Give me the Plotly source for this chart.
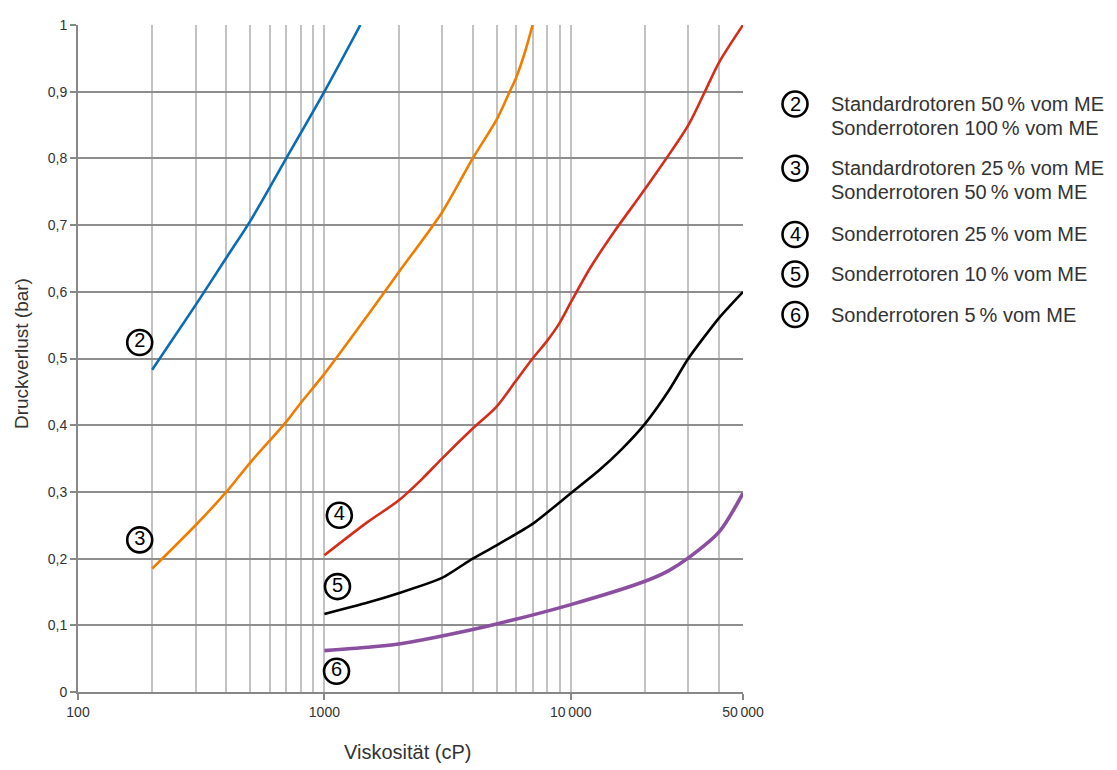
import plotly.graph_objects as go

# ---------------- data ----------------
x2 = [200, 300, 400, 500, 700, 1000, 1400]
y2 = [0.483, 0.580, 0.651, 0.706, 0.800, 0.900, 1.000]

x3 = [200, 300, 400, 500, 700, 800, 1000, 1500, 2000, 3000, 4000, 5000, 5650, 6000, 6500, 7000]
y3 = [0.185, 0.250, 0.300, 0.344, 0.405, 0.433, 0.477, 0.565, 0.629, 0.719, 0.800, 0.858, 0.900, 0.921, 0.958, 1.000]

x4 = [1000, 1500, 2000, 2500, 3000, 4000, 5000, 6000, 7000, 8000, 9000, 10000, 12000, 15000, 20000, 30000, 35000, 40000, 50000]
y4 = [0.205, 0.255, 0.287, 0.320, 0.350, 0.395, 0.428, 0.467, 0.500, 0.526, 0.553, 0.584, 0.636, 0.690, 0.754, 0.850, 0.900, 0.944, 1.000]

x5 = [1000, 1500, 2000, 3000, 4000, 5000, 7000, 10000, 13000, 16000, 20000, 25000, 30000, 40000, 50000]
y5 = [0.117, 0.134, 0.148, 0.171, 0.200, 0.220, 0.252, 0.298, 0.332, 0.363, 0.402, 0.452, 0.500, 0.561, 0.600]

x6 = [1000, 1500, 2000, 3000, 5000, 10000, 20000, 25000, 30000, 40000, 50000]
y6 = [0.062, 0.067, 0.072, 0.084, 0.102, 0.131, 0.166, 0.182, 0.201, 0.240, 0.298]

curve_ids = ["2", "3", "4", "5", "6"]
label_x = [178, 178, 1150, 1130, 1120]
label_y = [0.524, 0.228, 0.265, 0.158, 0.031]

legend_lines = [
    ["Standardrotoren 50\u2009% vom ME", "Sonderrotoren 100\u2009% vom ME"],
    ["Standardrotoren 25\u2009% vom ME", "Sonderrotoren 50\u2009% vom ME"],
    ["Sonderrotoren 25\u2009% vom ME"],
    ["Sonderrotoren 10\u2009% vom ME"],
    ["Sonderrotoren 5\u2009% vom ME"],
]

x_major = [100, 1000, 10000, 50000]
x_major_text = ["100", "1000", "10\u2009000", "50\u2009000"]
x_minor = [200, 300, 400, 500, 600, 700, 800, 900, 1000,
           2000, 3000, 4000, 5000, 6000, 7000, 8000, 9000, 10000,
           20000, 30000, 40000, 50000]
y_ticks = [0, 0.1, 0.2, 0.3, 0.4, 0.5, 0.6, 0.7, 0.8, 0.9, 1.0]
y_tick_text = ["0", "0,1", "0,2", "0,3", "0,4", "0,5", "0,6", "0,7", "0,8", "0,9", "1"]

x_title = "Viskosität (cP)"
y_title = "Druckverlust (bar)"

# ---------------- figure ----------------
FONT = "Liberation Sans"
TXT = "#333333"
fig = go.Figure()

series = [
    (x2, y2, "#0a6cb4", 2.6, 0.8),
    (x3, y3, "#f07d00", 2.6, 0.8),
    (x4, y4, "#d42e1a", 2.6, 0.8),
    (x5, y5, "#000000", 2.6, 0.6),
    (x6, y6, "#8b4f9f", 3.6, 0.8),
]
for xs, ys, col, w, sm in series:
    fig.add_trace(go.Scatter(
        x=xs, y=ys, mode="lines",
        line=dict(color=col, width=w, shape="spline", smoothing=sm),
        showlegend=False, hoverinfo="skip",
    ))

fig.add_trace(go.Scatter(
    x=label_x, y=label_y, mode="markers+text",
    marker=dict(symbol="circle", size=25, color="white",
                line=dict(color="black", width=2.6)),
    text=curve_ids, textposition="middle center",
    textfont=dict(family=FONT, size=20, color="black"),
    showlegend=False, hoverinfo="skip", cliponaxis=False,
))

# page pixel geometry of the plot area (page has an 8px body margin)
OFF = 8
L, R, T, B = 78, 743, 17, 692
W, H = 1117 - OFF, 770 - OFF

def px2paper_x(px):
    return (px - L) / (R - L)

def px2paper_y(py):
    return (B - py) / (B - T)

legend_y_px = [97, 162, 229, 269, 310]
for cid, lines, py in zip(curve_ids, legend_lines, legend_y_px):
    cx = px2paper_x(795)
    cy = px2paper_y(py)
    fig.add_shape(type="circle", xref="paper", yref="paper",
                  xsizemode="pixel", ysizemode="pixel",
                  xanchor=cx, yanchor=cy, x0=-12.5, x1=12.5, y0=-12.5, y1=12.5,
                  line=dict(color="black", width=2.6), fillcolor="white")
    fig.add_annotation(x=cx, y=cy, xref="paper", yref="paper",
                       text=cid, showarrow=False,
                       font=dict(family=FONT, size=20, color="black"),
                       xanchor="center", yanchor="middle")
    for i, line in enumerate(lines):
        fig.add_annotation(x=px2paper_x(829), y=px2paper_y(py + 24 * i),
                           xref="paper", yref="paper", text=line,
                           showarrow=False, xanchor="left", yanchor="middle",
                           font=dict(family=FONT, size=20, color=TXT))

# axis titles
fig.add_annotation(x=px2paper_x(407), y=px2paper_y(753), xref="paper", yref="paper",
                   text=x_title, showarrow=False, xanchor="center", yanchor="middle",
                   font=dict(family=FONT, size=20, color=TXT))
fig.add_annotation(x=px2paper_x(21), y=px2paper_y(350), xref="paper", yref="paper",
                   text=y_title, showarrow=False, xanchor="center", yanchor="middle",
                   textangle=-90, font=dict(family=FONT, size=19, color=TXT))

fig.update_layout(
    width=W, height=H,
    margin=dict(l=L - OFF, r=1117 - R, t=T - OFF, b=770 - B, pad=0),
    paper_bgcolor="white", plot_bgcolor="white",
    font=dict(family=FONT, color=TXT, size=14),
    xaxis=dict(
        type="log", range=[2, 4.69897],
        tickmode="array", tickvals=x_major, ticktext=x_major_text,
        ticks="outside", ticklen=6, tickwidth=1.5, tickcolor="#888888",
        showgrid=True, gridcolor="#c2c2c2", gridwidth=1.5,
        minor=dict(tickmode="array", tickvals=x_minor, showgrid=True,
                   gridcolor="#c2c2c2", gridwidth=1.5, ticks=""),
        showline=True, linecolor="#888888", linewidth=2,
        zeroline=False,
        tickfont=dict(family=FONT, size=14, color=TXT),
    ),
    yaxis=dict(
        range=[0, 1], tickmode="array", tickvals=y_ticks, ticktext=y_tick_text,
        ticks="outside", ticklen=6, tickwidth=1.5, tickcolor="#888888",
        showgrid=True, gridcolor="#8e8e8e", gridwidth=2,
        showline=True, linecolor="#888888", linewidth=2,
        zeroline=False,
        tickfont=dict(family=FONT, size=14, color=TXT),
    ),
)

fig.write_html("out.html")
